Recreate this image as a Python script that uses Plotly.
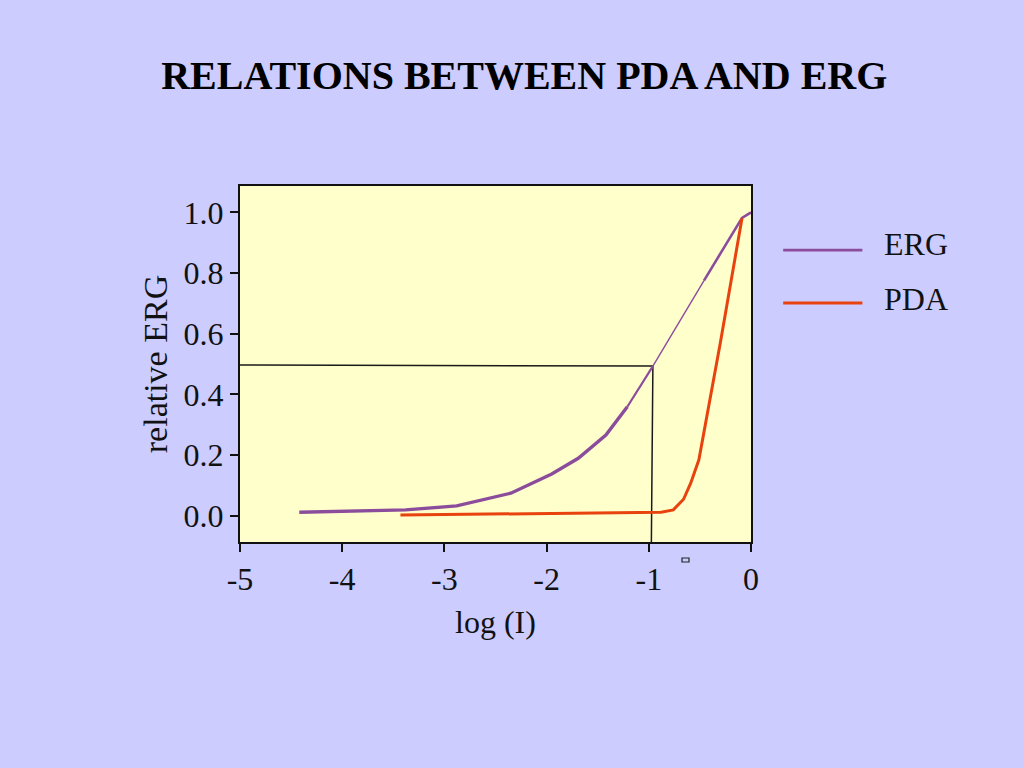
import plotly.graph_objects as go

# ---- data ----
erg_x = [-4.42, -3.38, -2.88, -2.35, -1.95, -1.69, -1.42, -1.21, -0.96, -0.46, -0.088, 0.0]
erg_y = [0.011, 0.019, 0.032, 0.074, 0.137, 0.189, 0.266, 0.359, 0.493, 0.775, 0.982, 1.0]

pda_x = [-3.43, -0.88, -0.76, -0.66, -0.59, -0.51, -0.30, -0.088]
pda_y = [0.002, 0.011, 0.019, 0.054, 0.107, 0.184, 0.570, 0.981]

# half-response reference lines
ref_x = [-5.0, -0.96, -0.975]
ref_y = [0.497, 0.493, -0.09]

x_ticks = [-5, -4, -3, -2, -1, 0]
y_ticks = [0.0, 0.2, 0.4, 0.6, 0.8, 1.0]
y_ticklabels = ["0.0", "0.2", "0.4", "0.6", "0.8", "1.0"]

ERG_COLOR = "#8C4C9C"
PDA_COLOR = "#E8420E"
FONT = "Liberation Serif, Times New Roman, serif"

fig = go.Figure()

# reference lines
fig.add_trace(go.Scatter(x=ref_x, y=ref_y, mode="lines",
                         line=dict(color="#1a1a1a", width=1.5),
                         showlegend=False, hoverinfo="skip"))

# ERG drawn in segments of varying stroke width (as in the original)
segments = [(0, 8, 3.4), (7, 9, 2.2), (8, 10, 1.4), (9, 12, 2.6)]
for i, (a, b, w) in enumerate(segments):
    fig.add_trace(go.Scatter(x=erg_x[a:b], y=erg_y[a:b], mode="lines",
                             line=dict(color=ERG_COLOR, width=w),
                             name="ERG", showlegend=False))

fig.add_trace(go.Scatter(x=pda_x, y=pda_y, mode="lines",
                         line=dict(color=PDA_COLOR, width=3),
                         name="PDA", showlegend=False))

# manual legend (longer line samples than plotly's legend allows)
legend_items = [("ERG", ERG_COLOR, 0.820, 0.836, 2.6), ("PDA", PDA_COLOR, 0.671, 0.683, 3.0)]
shapes = []
annotations = []
for name, col, ly, ty, w in legend_items:
    shapes.append(dict(type="line", xref="paper", yref="paper",
                       x0=1.063, x1=1.218, y0=ly, y1=ly,
                       line=dict(color=col, width=w)))
    annotations.append(dict(text=name, xref="paper", yref="paper",
                            x=1.256, y=ty, xanchor="left", yanchor="middle",
                            showarrow=False, font=dict(family=FONT, size=32, color="#111")))

# small artifact box under the axis
shapes.append(dict(type="rect", xref="paper", yref="paper",
                   x0=(682 - 240) / 511, x1=(689 - 240) / 511,
                   y0=(542 - 562) / 356, y1=(542 - 558) / 356,
                   line=dict(color="#222", width=1.2), fillcolor="rgba(0,0,0,0)"))

fig.update_layout(
    width=1024, height=768,
    paper_bgcolor="#CCCCFF", plot_bgcolor="#FFFFCC",
    margin=dict(l=240, r=273, t=186, b=226),
    font=dict(family=FONT, color="#111", size=32),
    title=dict(text="<b>RELATIONS BETWEEN PDA AND ERG</b>",
               x=0.512, xanchor="center", y=1 - 75 / 768, yanchor="middle",
               font=dict(family=FONT, size=40, color="#000")),
    shapes=shapes, annotations=annotations,
    showlegend=False,
)

fig.update_xaxes(range=[-5, 0], tickvals=x_ticks, ticktext=[str(v) for v in x_ticks],
                 showgrid=False, zeroline=False,
                 showline=True, mirror=True, linecolor="#111", linewidth=2,
                 ticks="outside", ticklen=8, tickwidth=2, tickcolor="#111",
                 tickfont=dict(family=FONT, size=32, color="#111"),
                 title=dict(text="log (I)", standoff=14,
                            font=dict(family=FONT, size=32, color="#111")))
fig.update_yaxes(range=[-0.087, 1.087], tickvals=y_ticks, ticktext=y_ticklabels,
                 showgrid=False, zeroline=False,
                 showline=True, mirror=True, linecolor="#111", linewidth=2,
                 ticks="outside", ticklen=8, tickwidth=2, tickcolor="#111",
                 tickfont=dict(family=FONT, size=32, color="#111"),
                 title=dict(text="relative ERG", standoff=6,
                            font=dict(family=FONT, size=34, color="#111")))

fig.write_html("out.html", config={"displayModeBar": False},
               post_script="document.body.style.margin='0';document.body.style.overflow='hidden';")
